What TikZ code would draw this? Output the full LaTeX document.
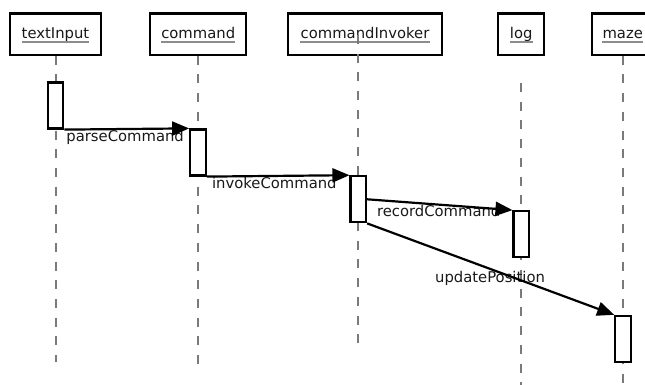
\documentclass[tikz,border=0pt]{standalone}
\usepackage{fontspec}
\setmainfont{DejaVu Sans}
\usetikzlibrary{arrows.meta}
\pgfdeclarelayer{lines}
\pgfdeclarelayer{front}
\pgfsetlayers{main,lines,front}

\begin{document}
\begin{tikzpicture}[x=1pt,y=-1pt,
  font=\fontsize{14.8}{17}\selectfont,
  actor/.style={draw=black, line width=2.2pt, fill=white, minimum height=41.2pt, inner sep=0pt},
  actorname/.style={anchor=base, inner sep=0pt, text=black!90},
  nameline/.style={draw=black!45, line width=1.5pt},
  lifeline/.style={draw=black!52, line width=2pt, dash pattern=on 9pt off 9.7pt},
  activation/.style={draw=black, line width=2.2pt, fill=white, minimum width=15.5pt, minimum height=46pt, inner sep=0pt},
  msg/.style={draw=black, line width=2.2pt, -{Triangle[length=17pt,width=14pt]}},
  msglabel/.style={anchor=base, inner sep=0pt, yshift=-13pt, text=black!90, behind path},
]
\useasboundingbox (0,0) rectangle (645,385);

% participants
\node[actor, minimum width=90.4pt] (textInput) at (55.5,34.1) {};
\node[actorname] (textInputName) at (55.5,38.5) {textInput};
\node[actor, minimum width=96.3pt] (command) at (198.2,34.1) {};
\node[actorname] (commandName) at (198.2,38.5) {command};
\node[actor, minimum width=153.4pt] (commandInvoker) at (365,34.1) {};
\node[actorname] (commandInvokerName) at (365,38.5) {commandInvoker};
\node[actor, minimum width=45.7pt] (log) at (521.2,34.1) {};
\node[actorname] (logName) at (521.2,38.5) {log};
\node[actor, minimum width=62pt] (maze) at (622.7,34.1) {};
\node[actorname] (mazeName) at (622.7,38.5) {maze};

\foreach \n in {textInputName,commandName,commandInvokerName,logName,mazeName}
  \draw[nameline] ([yshift=-3.5pt]\n.base west) -- ([yshift=-3.5pt]\n.base east);

% activations
\begin{pgfonlayer}{front}
\node[activation] (a1) at (55.5,105.5) {};
\node[activation] (a2) at (198,152.5) {};
\node[activation] (a3) at (358.3,199.3) {};
\node[activation] (a4) at (521.3,234.2) {};
\node[activation] (a5) at (623,338.9) {};
\end{pgfonlayer}

% lifeline end points
\coordinate (textInputEnd) at (55.5,362);
\coordinate (commandEnd) at (198.2,366);
\coordinate (commandInvokerTop) at (358.3,35);
\coordinate (commandInvokerEnd) at (358.3,343);
\coordinate (logTop) at (521.2,83);
\coordinate (logEnd) at (521.2,385);
\coordinate (mazeEnd) at (622.7,385);

\begin{pgfonlayer}{lines}
\draw[lifeline] (textInput.south) -- (textInputEnd);
\draw[lifeline] (command.south) -- (commandEnd);
\draw[lifeline] (commandInvokerTop) -- (commandInvokerEnd);
\draw[lifeline] (logTop) -- (logEnd);
\draw[lifeline] (maze.south) -- (mazeEnd);

% messages
\draw[msg] (a1.south east) -- node[msglabel, xshift=-1.6pt] {parseCommand} (a2.north west);
\draw[msg] (a2.south east) -- node[msglabel, xshift=-3.8pt] {invokeCommand} (a3.north west);
\draw[msg] (a3.east) -- node[msglabel, xshift=-1.1pt, yshift=1pt] {recordCommand} (a4.north west);
\draw[msg] (a3.south east) -- node[msglabel, xshift=-0.6pt] {updatePosition} (a5.north west);
\end{pgfonlayer}
\end{tikzpicture}
\end{document}
